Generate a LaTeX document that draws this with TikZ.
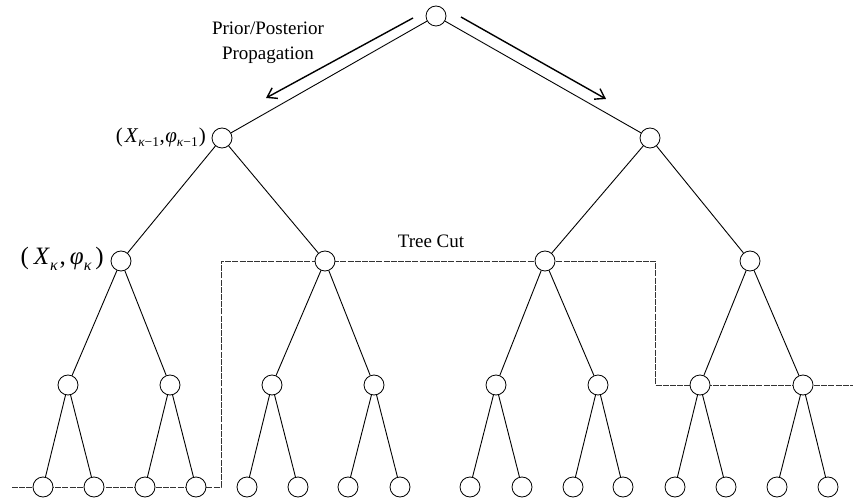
\documentclass[tikz,border=0pt]{standalone}
\usepackage{fontspec}
\setmainfont{Liberation Serif}
\usetikzlibrary{arrows.meta}
\newcommand\subA[1]{\raisebox{-4.5pt}{\fontsize{13.5}{13.5}\selectfont\itshape #1}}
\newcommand\subB[1]{\raisebox{-5.5pt}{\fontsize{16}{16}\selectfont\itshape #1}}
\begin{document}
\begin{tikzpicture}[x=1pt,y=-1pt,
  tn/.style={circle,draw,fill=white,minimum size=20pt,inner sep=0pt,line width=0.8pt},
  edge/.style={line width=0.9pt},
  cut/.style={line width=0.8pt,dash pattern=on 6pt off 1.2pt,black!80},
  prop/.style={line width=1.4pt,-{Straight Barb[length=9pt,width=12pt,line width=1.4pt]}},
  lbl/.style={font=\fontsize{19}{25}\selectfont},
  mlbl/.style={anchor=east,inner sep=0pt}]
\useasboundingbox (0,0) rectangle (853,502);
% tree cut
\coordinate (k0) at (12,487);
\coordinate (k1) at (221,487);
\coordinate (k2) at (221,261);
\coordinate (k3) at (655,261);
\coordinate (k4) at (655,385);
\coordinate (k5) at (853,385);
\draw[cut] (k0) -- (k1) -- (k2) -- (k3) -- (k4) -- (k5);
% nodes
\node[tn] (r) at (436,16) {};
\node[tn] (a) at (222,138) {};
\node[tn] (b) at (650,138) {};
\foreach \n/\x in {1/121,2/325,3/545,4/750}
  \node[tn] (c\n) at (\x,261) {};
\foreach \n/\x in {1/68,2/170,3/272,4/374,5/496,6/598,7/700,8/803}
  \node[tn] (d\n) at (\x,385) {};
\foreach \n/\x in {1/43,2/94,3/145,4/196,5/247,6/298,7/348,8/400,9/470,10/522,11/573,12/623,13/675,14/726,15/777,16/828}
  \node[tn] (e\n) at (\x,487) {};
% edges
\draw[edge] (r) -- (a);
\draw[edge] (r) -- (b);
\draw[edge] (a) -- (c1);
\draw[edge] (a) -- (c2);
\draw[edge] (b) -- (c3);
\draw[edge] (b) -- (c4);
\foreach \p/\l/\rr in {1/1/2,2/3/4,3/5/6,4/7/8}{
  \draw[edge] (c\p) -- (d\l);
  \draw[edge] (c\p) -- (d\rr);
}
\foreach \p/\l/\rr in {1/1/2,2/3/4,3/5/6,4/7/8,5/9/10,6/11/12,7/13/14,8/15/16}{
  \draw[edge] (d\p) -- (e\l);
  \draw[edge] (d\p) -- (e\rr);
}
% propagation arrows
\coordinate (p1) at (413,18);
\coordinate (p2) at (266,98);
\coordinate (p3) at (461,17);
\coordinate (p4) at (606,99);
\draw[prop] (p1) -- (p2);
\draw[prop] (p3) -- (p4);
% labels
\node[lbl,align=center] (t1) at (268,43) {Prior/Posterior\\Propagation};
\node[lbl] (t2) at (431,241) {Tree Cut};
\node[mlbl,font=\fontsize{21}{24}\selectfont] (l1) at (206,137) {(\kern2pt\textit{X}\subA{κ\upshape−1}\kern0.5pt,\kern0.5pt\textit{φ}\subA{κ\upshape−1}\kern1pt)};
\node[mlbl,font=\fontsize{25}{28}\selectfont] (l2) at (104,259) {(\kern5pt\textit{X}\subB{κ}\kern2pt,\kern4pt\textit{φ}\subB{κ}\kern4pt)};
\end{tikzpicture}
\end{document}
